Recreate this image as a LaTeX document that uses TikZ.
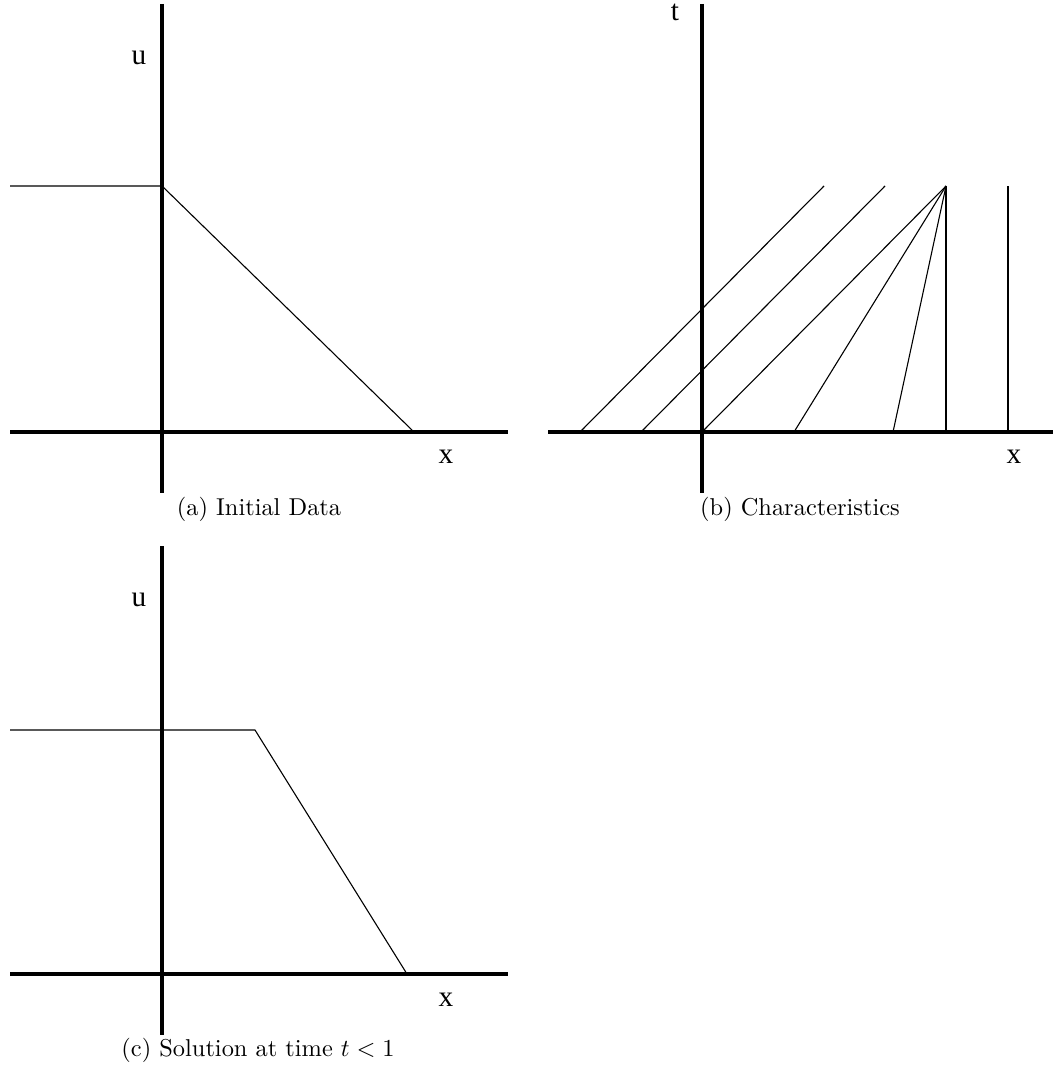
\documentclass[tikz,border=0pt]{standalone}
\usepackage{fontspec}
\newfontfamily\labfont{Liberation Serif}
\begin{document}
\begin{tikzpicture}[x=0.41pt,y=-0.41pt,
  axis/.style={line width=1.6pt},
  curve/.style={line width=0.45pt},
  lab/.style={font=\labfont\fontsize{12}{14}\selectfont, inner sep=0pt},
  captext/.style={font=\normalsize, inner sep=0pt}]
\useasboundingbox (0,0) rectangle (1059,1070);
% ---------- panel (a)
\coordinate (a-yt) at (162,4);
\coordinate (a-yb) at (162,493);
\coordinate (a-xl) at (10,432);
\coordinate (a-xr) at (508,432);
\coordinate (a-p0) at (10,186);
\coordinate (a-p1) at (162,186);
\coordinate (a-p2) at (414,432);
\draw[axis] (a-yt) -- (a-yb);
\draw[axis] (a-xl) -- (a-xr);
\draw[curve] (a-p0) -- (a-p1) -- (a-p2);
\node[lab] (a-u) at (139,58) {u};
\node[lab] (a-x) at (446,457) {x};
\node[captext] (a-cap) at (259,509) {(a) Initial Data};
% ---------- panel (b)
\coordinate (b-yt) at (702,4);
\coordinate (b-yb) at (702,493);
\coordinate (b-xl) at (548,432);
\coordinate (b-xr) at (1053,432);
\draw[axis] (b-yt) -- (b-yb);
\draw[axis] (b-xl) -- (b-xr);
\coordinate (b-f) at (946,186);
\coordinate (b-s1) at (580,432); \coordinate (b-e1) at (824,186);
\coordinate (b-s2) at (641,432); \coordinate (b-e2) at (885,186);
\coordinate (b-s3) at (702,432);
\coordinate (b-s4) at (794,432);
\coordinate (b-s5) at (893,432);
\coordinate (b-s6) at (946,432);
\coordinate (b-s7) at (1008,432); \coordinate (b-e7) at (1008,186);
\draw[curve] (b-s1) -- (b-e1);
\draw[curve] (b-s2) -- (b-e2);
\draw[curve] (b-s3) -- (b-f);
\draw[curve] (b-s4) -- (b-f);
\draw[curve] (b-s5) -- (b-f);
\draw[curve] (b-s6) -- (b-f);
\draw[curve] (b-s7) -- (b-e7);
\node[lab] (b-t) at (675,12) {t};
\node[lab] (b-x) at (1014,457) {x};
\node[captext] (b-cap) at (800,509) {(b) Characteristics};
% ---------- panel (c)
\coordinate (c-yt) at (162,546);
\coordinate (c-yb) at (162,1035);
\coordinate (c-xl) at (10,974);
\coordinate (c-xr) at (508,974);
\coordinate (c-p0) at (10,730);
\coordinate (c-p1) at (255,730);
\coordinate (c-p2) at (407,974);
\draw[axis] (c-yt) -- (c-yb);
\draw[axis] (c-xl) -- (c-xr);
\draw[curve] (c-p0) -- (c-p1) -- (c-p2);
\node[lab] (c-u) at (139,600) {u};
\node[lab] (c-x) at (446,1000) {x};
\node[captext] (c-cap) at (258,1050) {(c) Solution at time $t<1$};
\end{tikzpicture}
\end{document}
